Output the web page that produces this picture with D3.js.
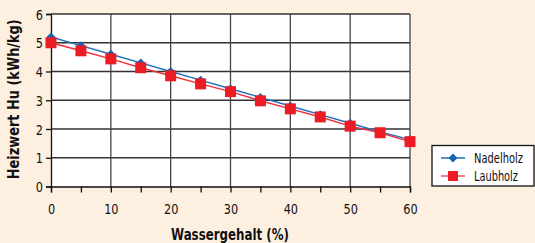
<!DOCTYPE html>
<html>
<head>
    <title>Heizwert</title>
    <script src="https://d3js.org/d3.v7.min.js"></script>
    <style>
        body { margin: 0; background: #fdf0e1; }
        svg { display: block; }
        svg text { font-family: "DejaVu Sans", sans-serif; }
    </style>
</head>
<body>
    <svg id="chart"></svg>
    <script>
        // Wassergehalt (%)
        const wasser = [0, 5, 10, 15, 20, 25, 30, 35, 40, 45, 50, 55, 60];
        const nadelholz = [5.2, 4.9, 4.6, 4.3, 4.0, 3.7, 3.4, 3.1, 2.8, 2.5, 2.2, 1.9, 1.63];
        const laubholz = [5.0, 4.72, 4.44, 4.13, 3.85, 3.57, 3.3, 2.98, 2.7, 2.42, 2.1, 1.87, 1.56];
        const xTicks = [0, 10, 20, 30, 40, 50, 60];
        const yTicks = [0, 1, 2, 3, 4, 5, 6];

        const width = 535, height = 243;
        const svg = d3.select("#chart").attr("width", width).attr("height", height);

        const x = d3.scaleLinear().domain([0, 60]).range([51, 410]);
        const y = d3.scaleLinear().domain([0, 6]).range([186.5, 14]);

        // plot background
        svg.append("rect")
            .attr("x", x(0)).attr("y", y(6))
            .attr("width", x(60) - x(0)).attr("height", y(0) - y(6))
            .attr("fill", "#fff");

        // grid
        svg.append("g").selectAll("line").data(yTicks.slice(1)).join("line")
            .attr("x1", x(0)).attr("x2", x(60))
            .attr("y1", d => y(d)).attr("y2", d => y(d))
            .attr("stroke", "#333").attr("stroke-width", 1.3);
        svg.append("g").selectAll("line").data(xTicks.slice(1)).join("line")
            .attr("x1", d => x(d)).attr("x2", d => x(d))
            .attr("y1", y(0)).attr("y2", y(6))
            .attr("stroke", "#444").attr("stroke-width", 1.3);

        // axes
        const xAxis = svg.append("g")
            .attr("transform", `translate(0,${y(0)})`)
            .call(d3.axisBottom(x).tickValues(wasser).tickSize(6).tickFormat(d => d % 10 === 0 ? d : ""));
        const yAxis = svg.append("g")
            .attr("transform", `translate(${x(0)},0)`)
            .call(d3.axisLeft(y).tickValues(yTicks).tickSize(5).tickFormat(d3.format("d")));
        [xAxis, yAxis].forEach(a => {
            a.attr("font-family", null);
            a.select(".domain").attr("stroke", "#111").attr("stroke-width", 1.3);
            a.selectAll(".tick line").attr("stroke", "#111").attr("stroke-width", 1.3);
            a.selectAll(".tick text").attr("font-size", 14).attr("fill", "#111")
                .each(function () {
                    const n = this.textContent.length;
                    if (n) d3.select(this).attr("textLength", n * 7.2).attr("lengthAdjust", "spacingAndGlyphs");
                });
        });
        xAxis.selectAll(".tick text").attr("dy", "1.3em");
        yAxis.selectAll(".tick text").attr("x", -8).attr("dy", "0.36em");

        // series
        const line = d3.line().x((d, i) => x(wasser[i])).y(d => y(d));
        svg.append("path").datum(nadelholz)
            .attr("d", line).attr("fill", "none")
            .attr("stroke", "#1f6fba").attr("stroke-width", 1.5);
        svg.append("path").datum(laubholz)
            .attr("d", line).attr("fill", "none")
            .attr("stroke", "#f0303c").attr("stroke-width", 1.5);

        const diamond = d3.symbol().type(d3.symbolDiamond2).size(50);
        svg.append("g").selectAll("path").data(nadelholz).join("path")
            .attr("transform", (d, i) => `translate(${x(wasser[i])},${y(d)})`)
            .attr("d", diamond).attr("fill", "#1763b0");
        svg.append("g").selectAll("rect").data(laubholz).join("rect")
            .attr("x", (d, i) => x(wasser[i]) - 5.5).attr("y", d => y(d) - 5.5)
            .attr("width", 11).attr("height", 11).attr("fill", "#ec1c24");

        // axis titles
        svg.append("text")
            .attr("x", 230).attr("y", 240)
            .attr("text-anchor", "middle")
            .attr("font-size", 16).attr("font-weight", "bold").attr("fill", "#111")
            .attr("textLength", 118).attr("lengthAdjust", "spacingAndGlyphs")
            .text("Wassergehalt (%)");
        svg.append("text")
            .attr("transform", `translate(19,${y(3) - 1}) rotate(-90)`)
            .attr("text-anchor", "middle")
            .attr("font-size", 16).attr("font-weight", "bold").attr("fill", "#111")
            .attr("textLength", 160).attr("lengthAdjust", "spacingAndGlyphs")
            .text("Heizwert Hu (kWh/kg)");

        // legend
        const lg = svg.append("g");
        lg.append("rect")
            .attr("x", 432).attr("y", 145.5).attr("width", 102).attr("height", 40.5)
            .attr("fill", "#fff").attr("stroke", "#111").attr("stroke-width", 1.3);
        const items = [
            { name: "Nadelholz", color: "#1f6fba", y: 158, w: 49 },
            { name: "Laubholz", color: "#f0505a", y: 176, w: 44 }
        ];
        items.forEach((it, i) => {
            lg.append("line")
                .attr("x1", 441).attr("x2", 465).attr("y1", it.y).attr("y2", it.y)
                .attr("stroke", it.color).attr("stroke-width", 1.5);
            if (i === 0) {
                lg.append("path").attr("transform", `translate(453,${it.y})`)
                    .attr("d", diamond).attr("fill", "#1763b0");
            } else {
                lg.append("rect").attr("x", 448).attr("y", it.y - 5).attr("width", 10).attr("height", 10)
                    .attr("fill", "#ec1c24");
            }
            lg.append("text")
                .attr("x", 474).attr("y", it.y + 5)
                .attr("font-size", 14).attr("fill", "#111")
                .attr("textLength", it.w).attr("lengthAdjust", "spacingAndGlyphs")
                .text(it.name);
        });
    </script>
</body>
</html>
